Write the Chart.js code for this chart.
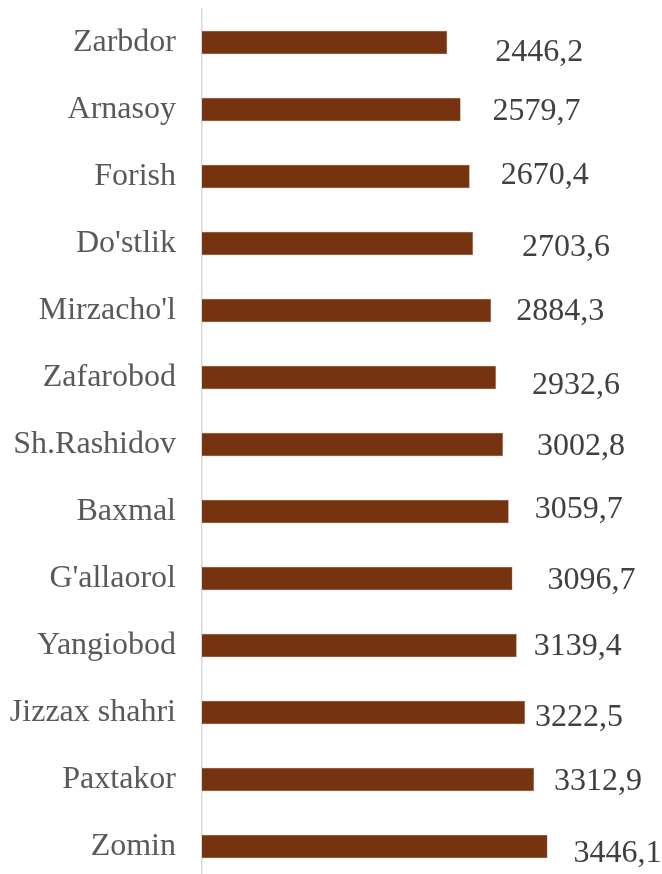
<!DOCTYPE html>
<html>
<head>
<meta charset="utf-8">
<script src="https://cdn.jsdelivr.net/npm/chart.js@4/dist/chart.umd.min.js"></script>
<style>
  html, body { margin: 0; padding: 0; background: #fff; overflow: hidden; }
  #wrap { width: 662px; height: 882px; }
</style>
</head>
<body>
<div id="wrap"><canvas id="chart"></canvas></div>
<script>
// Districts, top to bottom
const districts = ['Zarbdor', 'Arnasoy', 'Forish', "Do'stlik", "Mirzacho'l", 'Zafarobod',
    'Sh.Rashidov', 'Baxmal', "G'allaorol", 'Yangiobod', 'Jizzax shahri', 'Paxtakor', 'Zomin'];
const values = [2446.2, 2579.7, 2670.4, 2703.6, 2884.3, 2932.6,
    3002.8, 3059.7, 3096.7, 3139.4, 3222.5, 3312.9, 3446.1];

// hand nudges of the value labels (as placed in the original)
const labelDx = [48, 32, 31, 49, 25, 36, 34, 26, 35, 17, 10, 20, 26];
const labelDy = [9, 1, -2, 3, 0, 7, 1, -3, 1, 0, 4, 1, 6];

const serif = '"Liberation Serif", "Times New Roman", serif';

// value labels, comma as decimal separator
const valueLabels = {
    id: 'valueLabels',
    afterDatasetsDraw(chart) {
        const ctx = chart.ctx;
        const meta = chart.getDatasetMeta(0);
        ctx.save();
        ctx.font = '32px ' + serif;
        ctx.fillStyle = '#404040';
        ctx.textAlign = 'left';
        ctx.textBaseline = 'middle';
        meta.data.forEach((bar, i) => {
            const txt = values[i].toFixed(1).replace('.', ',');
            ctx.fillText(txt, bar.x + labelDx[i], bar.y + labelDy[i] + 1);
        });
        ctx.restore();
    }
};

new Chart(document.getElementById('chart'), {
    type: 'bar',
    data: {
        labels: districts,
        datasets: [{
            data: values,
            backgroundColor: '#76330f',
            borderColor: '#a0684a',
            borderWidth: 0.5,
            categoryPercentage: 1,
            barPercentage: 0.348
        }]
    },
    options: {
        indexAxis: 'y',
        responsive: true,
        maintainAspectRatio: false,
        animation: false,
        layout: { padding: { top: 9, right: 59, bottom: 2, left: 0 } },
        plugins: {
            legend: { display: false },
            tooltip: { enabled: false }
        },
        scales: {
            x: {
                min: 0,
                max: 4000,
                display: false
            },
            y: {
                grid: { display: false, drawTicks: false },
                border: { display: true, color: '#d9d9d9', width: 1.5 },
                ticks: {
                    padding: 26,
                    color: '#595959',
                    font: { family: serif, size: 32 }
                },
                afterFit(scale) {
                    scale.width = 202;
                    scale.paddingTop = 0;
                    scale.paddingBottom = 0;
                }
            }
        }
    },
    plugins: [valueLabels]
});
</script>
</body>
</html>
